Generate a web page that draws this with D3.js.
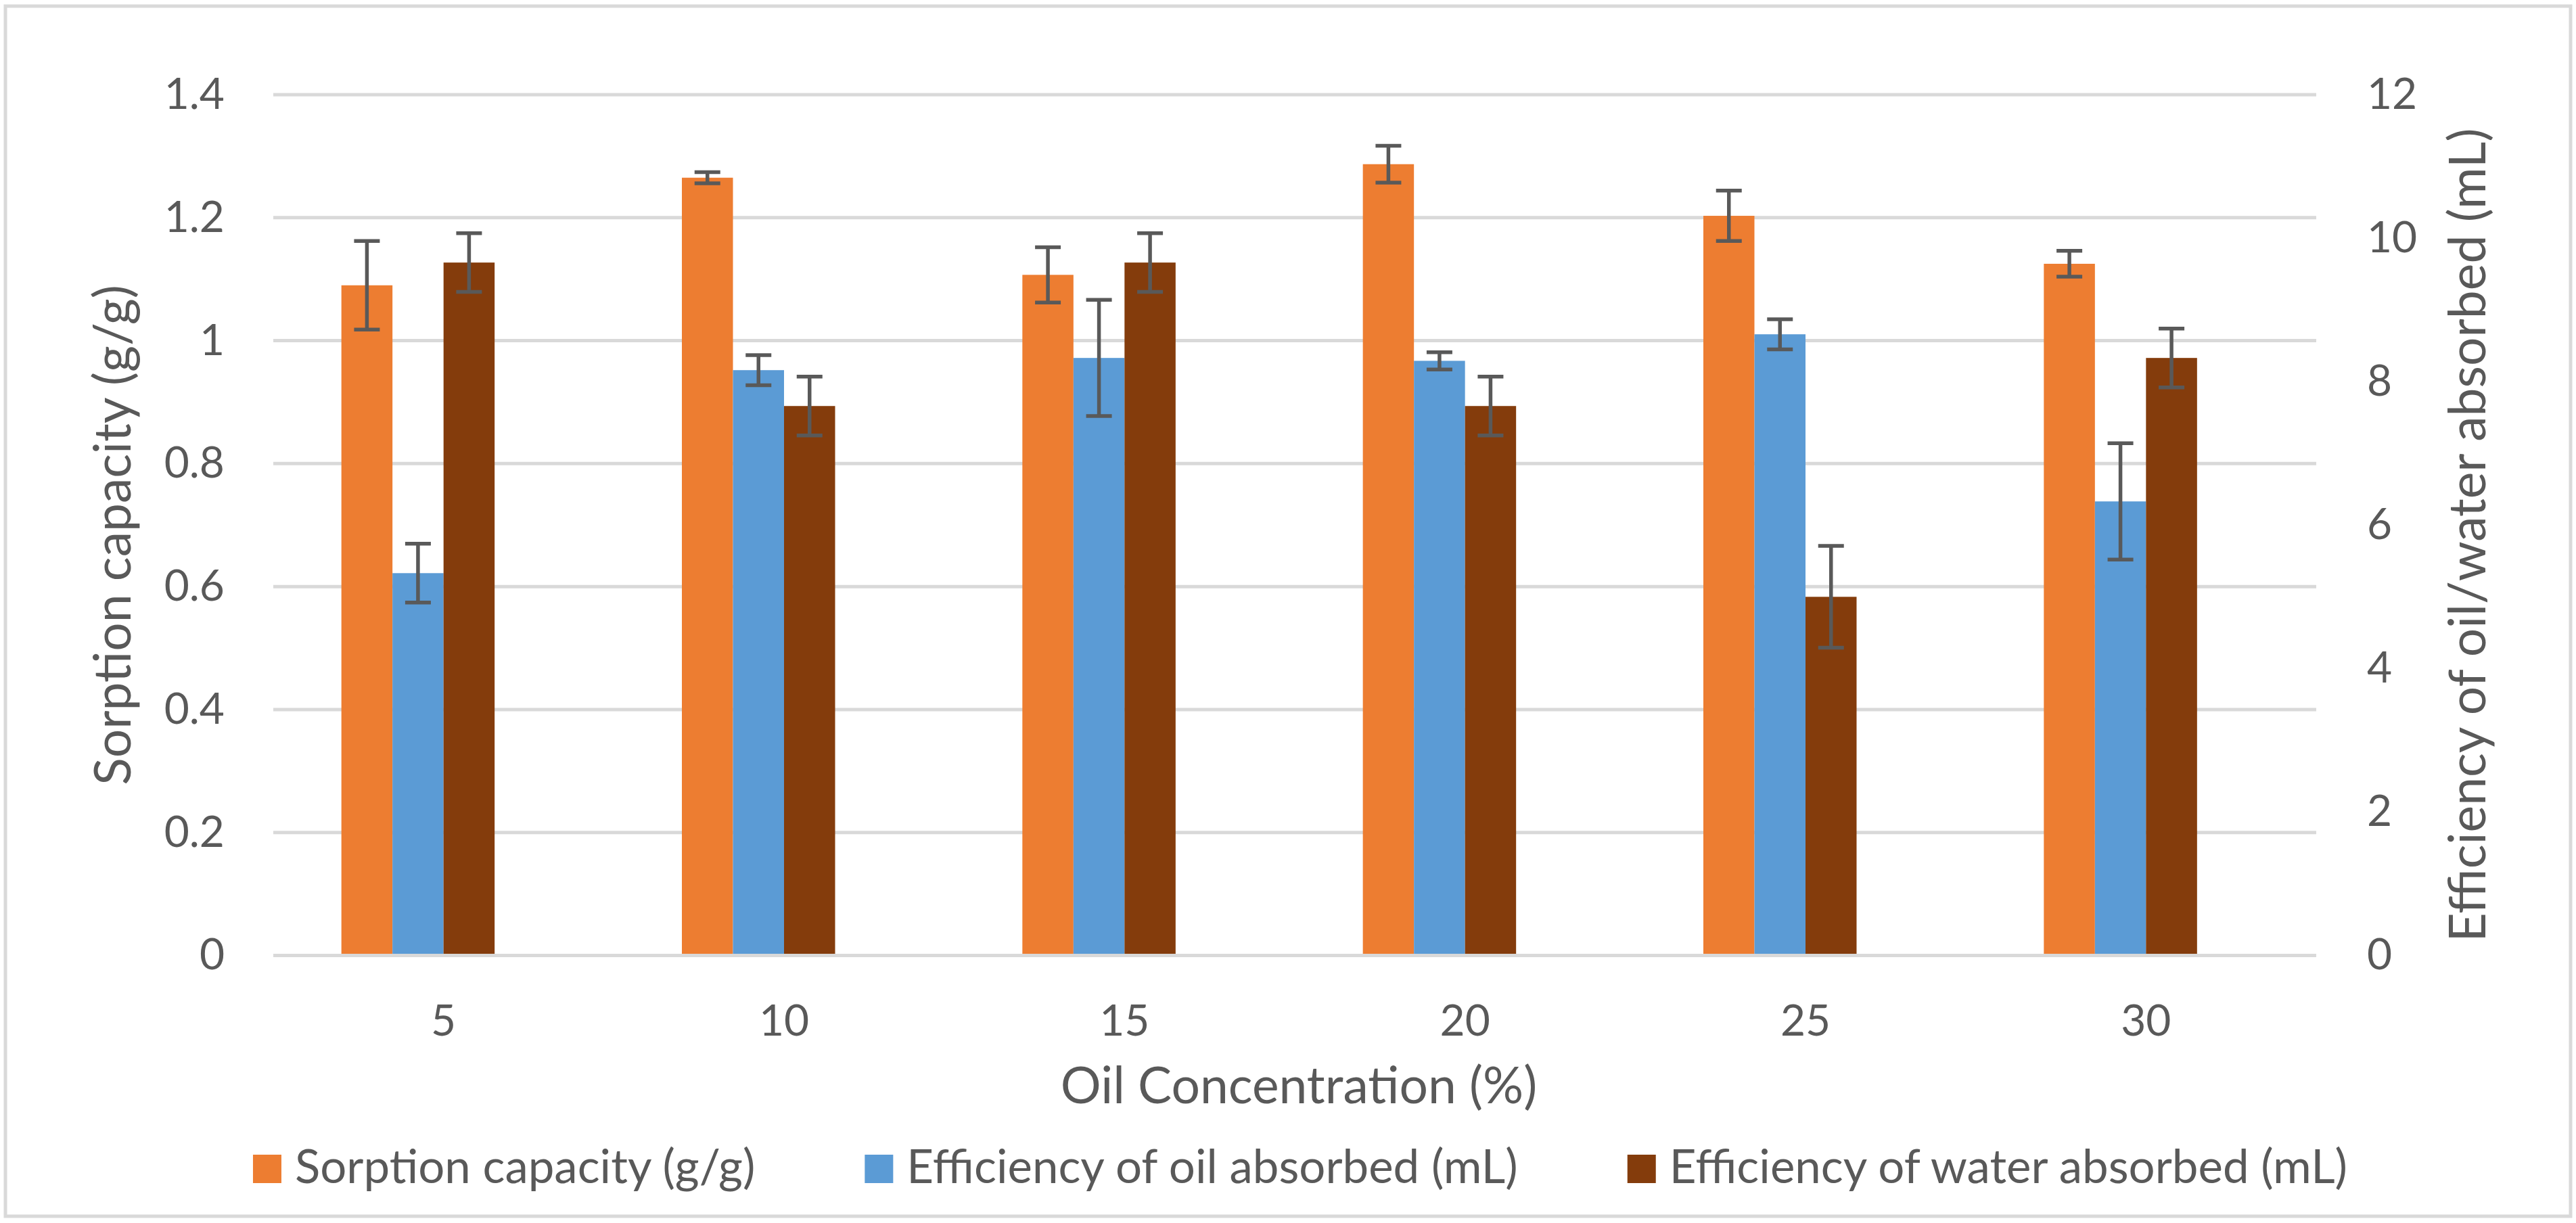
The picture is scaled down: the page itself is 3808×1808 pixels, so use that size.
<!DOCTYPE html>
<html>
<head>
<meta charset="utf-8">
<script src="https://cdn.jsdelivr.net/npm/d3@7/dist/d3.min.js"></script>
<style>
body { margin: 0; background: #fff; }
text { font-family: Lato, "Open Sans", sans-serif; fill: #595959; }
</style>
</head>
<body>
<div id="chart"></div>
<script>
// values
var categories = ["5", "10", "15", "20", "25", "30"];
var sorption    = [1.09, 1.265, 1.107, 1.287, 1.203, 1.125];
var sorptionErr = [0.072, 0.009, 0.045, 0.03, 0.041, 0.021];
var oil         = [5.33, 8.16, 8.33, 8.29, 8.66, 6.33];
var oilErr      = [0.41, 0.21, 0.81, 0.12, 0.21, 0.81];
var water       = [9.66, 7.66, 9.66, 7.66, 5.0, 8.33];
var waterErr    = [0.41, 0.41, 0.41, 0.41, 0.71, 0.41];
var leftTicks  = [0, 0.2, 0.4, 0.6, 0.8, 1, 1.2, 1.4];
var rightTicks = [0, 2, 4, 6, 8, 10, 12];
var legendLabels = ["Sorption capacity (g/g)", "Efficiency of oil absorbed (mL)", "Efficiency of water absorbed (mL)"];

var w = 3808, h = 1808;
var tickSize = 64, legendSize = 69, titleSize = 75;
var plot = {left: 404, right: 3424, top: 140, bottom: 1412.5};

var svg = d3.select("#chart")
    .append("svg")
    .attr("width", w)
    .attr("height", h);

// chart area border
svg.append("rect")
    .attr("x", 8).attr("y", 9)
    .attr("width", 3792).attr("height", 1789)
    .attr("fill", "#fff")
    .attr("stroke", "#d9d9d9")
    .attr("stroke-width", 5);

var x = d3.scaleBand()
    .domain(categories)
    .range([plot.left, plot.right])
    .paddingInner(0.4)
    .paddingOuter(0.2);

// four slots per category, the last one stays empty (as in the source workbook)
var slot = d3.scaleBand()
    .domain(["sorption", "oil", "water", "none"])
    .range([0, x.bandwidth()]);

var yL = d3.scaleLinear().domain([0, 1.4]).range([plot.bottom, plot.top]);
var yR = d3.scaleLinear().domain([0, 12]).range([plot.bottom, plot.top]);

// gridlines
svg.append("g").selectAll("line")
    .data(leftTicks.slice(1))
  .enter().append("line")
    .attr("x1", plot.left).attr("x2", plot.right)
    .attr("y1", function(d) { return yL(d); })
    .attr("y2", function(d) { return yL(d); })
    .attr("stroke", "#d9d9d9")
    .attr("stroke-width", 5);

var series = [
    {key: "sorption", values: sorption, err: sorptionErr, scale: yL, color: "#ed7d31"},
    {key: "oil",      values: oil,      err: oilErr,      scale: yR, color: "#5b9bd5"},
    {key: "water",    values: water,    err: waterErr,    scale: yR, color: "#843c0c"}
];

series.forEach(function(s) {
    var rows = categories.map(function(c, i) { return {cat: c, v: s.values[i], e: s.err[i]}; });
    var g = svg.append("g");
    g.selectAll("rect")
        .data(rows)
      .enter().append("rect")
        .attr("x", function(d) { return x(d.cat) + slot(s.key); })
        .attr("y", function(d) { return s.scale(d.v); })
        .attr("width", slot.bandwidth())
        .attr("height", function(d) { return s.scale(0) - s.scale(d.v); })
        .attr("fill", s.color);
    s.rows = rows;
});

// x axis line on top of the bars
svg.append("line")
    .attr("x1", plot.left).attr("x2", plot.right)
    .attr("y1", yL(0)).attr("y2", yL(0))
    .attr("stroke", "#d9d9d9")
    .attr("stroke-width", 5);

// error bars
series.forEach(function(s) {
    var eb = svg.append("g")
        .attr("stroke", "#595959")
        .attr("stroke-width", 5.5)
        .selectAll("g")
        .data(s.rows)
      .enter().append("g")
        .attr("transform", function(d) { return "translate(" + (x(d.cat) + slot(s.key) + slot.bandwidth() / 2) + ",0)"; });
    eb.append("line")
        .attr("y1", function(d) { return s.scale(d.v + d.e); })
        .attr("y2", function(d) { return s.scale(d.v - d.e); });
    eb.append("line")
        .attr("x1", -19).attr("x2", 19)
        .attr("y1", function(d) { return s.scale(d.v + d.e); })
        .attr("y2", function(d) { return s.scale(d.v + d.e); });
    eb.append("line")
        .attr("x1", -19).attr("x2", 19)
        .attr("y1", function(d) { return s.scale(d.v - d.e); })
        .attr("y2", function(d) { return s.scale(d.v - d.e); });
});

// axes
var left = svg.append("g")
    .attr("transform", "translate(" + plot.left + ",0)")
    .call(d3.axisLeft(yL).tickValues(leftTicks).tickSize(0).tickPadding(72).tickFormat(d3.format("~g")));
var right = svg.append("g")
    .attr("transform", "translate(" + plot.right + ",0)")
    .call(d3.axisRight(yR).tickValues(rightTicks).tickSize(0).tickPadding(75));
var bottom = svg.append("g")
    .attr("transform", "translate(0," + plot.bottom + ")")
    .call(d3.axisBottom(x).tickSize(0).tickPadding(118.5 - 0.71 * tickSize));

[left, right, bottom].forEach(function(a) {
    a.select(".domain").remove();
    a.selectAll("text")
        .attr("fill", "#595959")
        .style("font-size", tickSize + "px")
        .style("font-family", null);
});

// axis titles
svg.append("text")
    .attr("transform", "translate(193,791) rotate(-90)")
    .attr("text-anchor", "middle")
    .style("font-size", titleSize + "px")
    .text("Sorption capacity (g/g)");
svg.append("text")
    .attr("transform", "translate(3674,791) rotate(-90)")
    .attr("text-anchor", "middle")
    .style("font-size", titleSize + "px")
    .text("Efficiency of oil/water absorbed (mL)");
svg.append("text")
    .attr("x", 1920).attr("y", 1631)
    .attr("text-anchor", "middle")
    .style("font-size", titleSize + "px")
    .text("Oil Concentration (%)");

// legend
var legend = svg.append("g");
var items = legend.selectAll("g")
    .data(series)
  .enter().append("g");
items.append("rect")
    .attr("width", 42).attr("height", 42)
    .attr("y", 1707)
    .attr("fill", function(d) { return d.color; });
items.append("text")
    .attr("x", 62).attr("y", 1749)
    .style("font-size", legendSize + "px")
    .text(function(d, i) { return legendLabels[i]; });

var pos = 0, offsets = [];
items.each(function() {
    offsets.push(pos);
    pos += 62 + d3.select(this).select("text").node().getComputedTextLength() + 162;
});
var total = pos - 162, start = 1922 - total / 2;
items.attr("transform", function(d, i) { return "translate(" + (start + offsets[i]) + ",0)"; });
</script>
</body>
</html>
